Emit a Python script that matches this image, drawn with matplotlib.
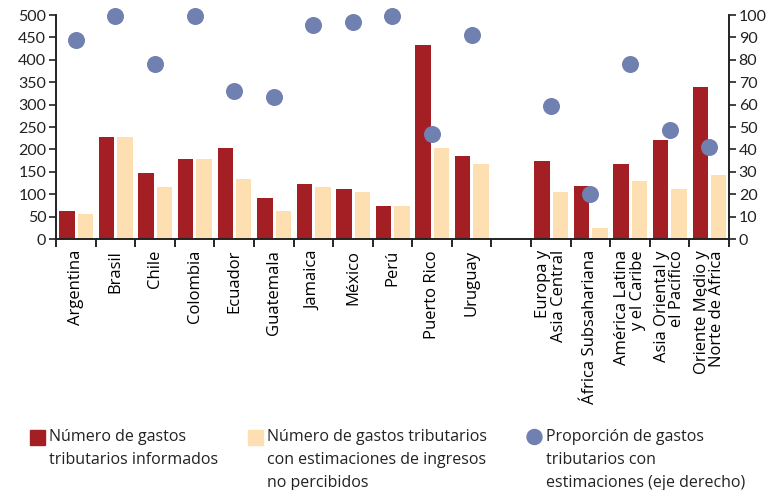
import matplotlib
matplotlib.use('Agg')
import matplotlib.pyplot as plt
from matplotlib.patches import Rectangle, Ellipse
import numpy as np

# Datos
categorias = ["Argentina", "Brasil", "Chile", "Colombia", "Ecuador", "Guatemala",
              "Jamaica", "México", "Perú", "Puerto Rico", "Uruguay", "",
              "Europa y\nAsia Central", "África Subsahariana", "América Latina\ny el Caribe",
              "Asia Oriental y\nel Pacífico", "Oriente Medio y\nNorte de África"]
informados = [62, 228, 148, 179, 204, 92, 123, 111, 74, 433, 185, np.nan,
              173, 118, 167, 222, 339]
estimados = [55, 228, 117, 179, 135, 62, 117, 105, 74, 204, 167, np.nan,
             105, 24, 129, 111, 142]
proporcion = [89, 99.5, 78, 99.5, 66, 63.5, 95.5, 97, 99.5, 47, 91, np.nan,
              59.5, 20, 78, 48.5, 41]

ROJO = '#a31f24'
CREMA = '#fddfb2'
AZUL = '#7080b0'

fig = plt.figure(figsize=(7.68, 4.9), dpi=100)
ax = fig.add_axes([56/768, 1-239/490, (729-56)/768, 224/490])
ax2 = ax.twinx()

x = np.arange(len(categorias))
ax.bar(x - 0.225, informados, width=0.39, color=ROJO, zorder=2)
ax.bar(x + 0.24, estimados, width=0.39, color=CREMA, zorder=2)
ax2.scatter(x, proporcion, s=150, color=AZUL, zorder=3, linewidths=0, clip_on=False)

ax.set_xlim(-0.5, len(categorias) - 0.5)
ax.set_ylim(0, 500)
ax2.set_ylim(0, 100)
ax.set_yticks(np.arange(0, 501, 50))
ax2.set_yticks(np.arange(0, 101, 10))

for a in (ax, ax2):
    a.spines['top'].set_visible(False)
    for s in a.spines.values():
        s.set_linewidth(1.2)
        s.set_color('#222222')
    a.tick_params(axis='y', length=5, width=1.2, pad=2, labelsize=11.5, colors='#222222')
    for lab in a.get_yticklabels():
        lab.set_fontfamily('Lato')

ax.set_xticks(x)
ax.set_xticklabels(categorias, rotation=90, fontsize=12, family='Open Sans',
                   va='top', ha='center', multialignment='right', linespacing=0.95)
ax.tick_params(axis='x', which='major', length=0, pad=8)
ax.set_xticks(np.arange(-0.5, len(categorias), 1), minor=True)
ax.tick_params(axis='x', which='minor', length=6, width=1.2)

# Leyenda manual
items = [(30, 'rect', ROJO, "Número de gastos\ntributarios informados"),
         (248, 'rect', CREMA, "Número de gastos tributarios\ncon estimaciones de ingresos\nno percibidos"),
         (527, 'circ', AZUL, "Proporción de gastos\ntributarios con\nestimaciones (eje derecho)")]
W, H = 768, 490
for xp, tipo, col, texto in items:
    if tipo == 'rect':
        fig.patches.append(Rectangle((xp/W, 1-445/H), 15/W, 15/H, color=col,
                                     transform=fig.transFigure, figure=fig))
    else:
        fig.patches.append(Ellipse(((xp+7.5)/W, 1-437/H), 15/W, 15/H,
                                   color=col, transform=fig.transFigure, figure=fig))
    fig.text((xp+19)/W, 1-429/H, texto, fontsize=11.5, family='Open Sans',
             va='top', ha='left', color='#222222', linespacing=1.6)

fig.savefig('out.png', dpi=100)
